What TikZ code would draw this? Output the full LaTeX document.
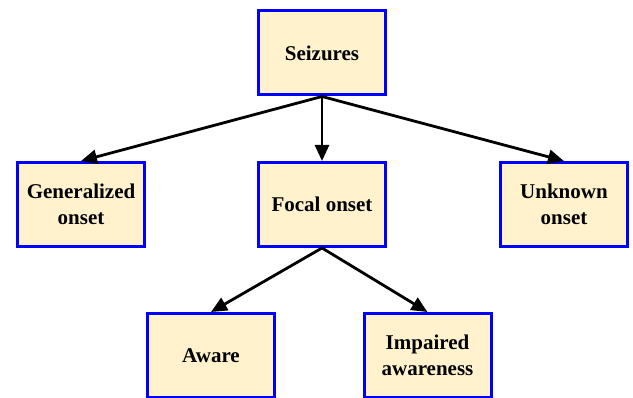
\documentclass[tikz,border=0pt]{standalone}
\usepackage{fontspec}
\setmainfont{Liberation Serif}
\usetikzlibrary{arrows.meta}
\definecolor{boxfill}{RGB}{255,242,204}

\begin{document}
\begin{tikzpicture}[x=1pt,y=-1pt,
  box/.style={draw=blue,fill=boxfill,line width=3pt,minimum width=127pt,minimum height=84pt,
    align=center,font=\fontsize{21}{26}\selectfont\bfseries,inner sep=2pt},
  link/.style={line width=2.8pt,-{Triangle[length=16pt,width=14pt]}}]
\useasboundingbox (0,0) rectangle (633,398);

\node[box] (SEIZ) at (322,53) {Seizures};
\node[box] (GEN) at (81,204.5) {Generalized\\onset};
\node[box] (FOCAL) at (322,204.5) {Focal onset};
\node[box] (UNK) at (564,204.5) {Unknown\\onset};
\node[box] (AWARE) at (211,355.5) {Aware};
\node[box] (IMP) at (427.5,355.5) {Impaired\\awareness};

\draw[link] (SEIZ.south) -- (GEN.north);
\draw[link] (SEIZ.south) -- (FOCAL.north);
\draw[link] (SEIZ.south) -- (UNK.north);
\draw[link] (FOCAL.south) -- (AWARE.north);
\draw[link] (FOCAL.south) -- (IMP.north);
\end{tikzpicture}
\end{document}
